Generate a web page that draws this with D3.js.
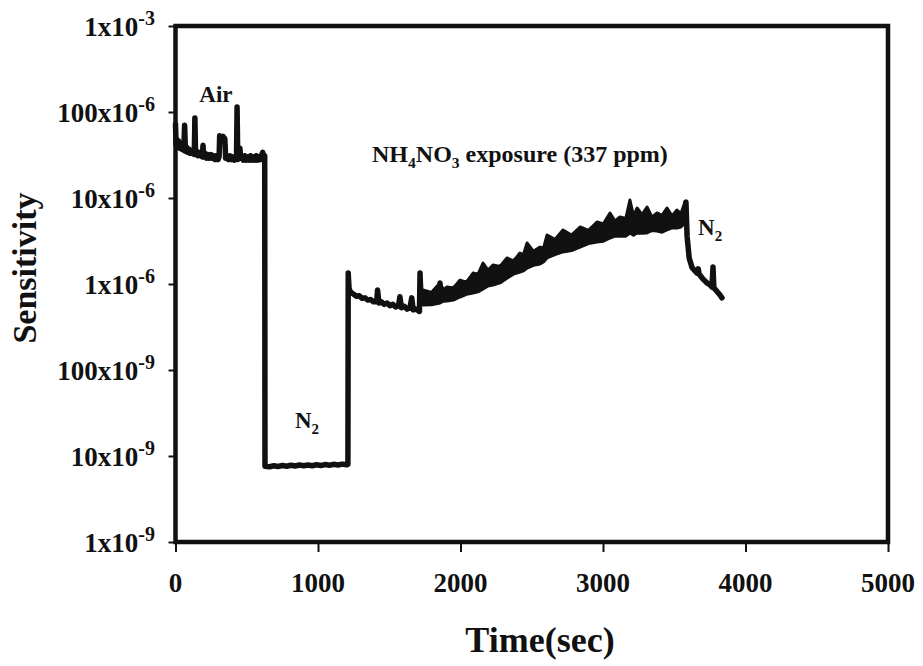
<!DOCTYPE html>
<html>
<head>
<meta charset="utf-8">
<script src="https://cdn.jsdelivr.net/npm/d3@7"></script>
<style>
  body { margin: 0; background: #fff; }
  svg text { font-family: "Liberation Serif", "Times New Roman", serif; font-weight: bold; fill: #111; }
</style>
</head>
<body>
<svg width="923" height="666"></svg>
<script>
// Sensitivity trace (time in s, sensitivity)
const traceTime = [
  // air
  0, 4, 10, 16, 22, 28, 36, 44, 52, 58, 64, 70, 78, 86, 94, 102, 110, 118, 126, 132,
  136, 141, 150, 158, 166, 174, 182, 188, 193, 198, 208, 218, 228, 238, 248, 258, 268, 278, 288, 298,
  306, 310, 322, 334, 346, 352, 362, 372, 382, 392, 402, 412, 422, 428, 432, 437, 444, 452, 458, 466,
  476, 486, 496, 506, 516, 526, 536, 546, 556, 566, 576, 586, 596, 606, 612, 620, 626,
  // N2
  628, 660, 690, 720, 750, 780, 810, 840, 870, 900, 930, 960, 990, 1020, 1050, 1080, 1110, 1140, 1170, 1200, 1210,
  // NH4NO3 exposure
  1212, 1218, 1230, 1250, 1270, 1290, 1310, 1330, 1350, 1370, 1390, 1412, 1418, 1428, 1445, 1465, 1485, 1505, 1525, 1545,
  1565, 1575, 1585, 1605, 1625, 1645, 1658, 1668, 1690, 1712, 1716, 1722, 1740, 1800, 1850, 1856, 1862, 1950, 2050, 2150,
  2250, 2350, 2450, 2550, 2650, 2750, 2850, 2950, 3050, 3150, 3250, 3350, 3450, 3540, 3575, 3582,
  // N2
  3590, 3605, 3625, 3660, 3668, 3675, 3700, 3730, 3750, 3765, 3772, 3778, 3800, 3821, 3835
];
const traceValue = [
  7.2e-5, 4.2e-5, 4.8e-5, 3.9e-5, 4.6e-5, 3.8e-5, 4.3e-5, 3.7e-5, 4.0e-5, 3.6e-5, 7.0e-5, 3.5e-5, 3.9e-5, 3.4e-5, 3.7e-5, 3.3e-5, 3.6e-5, 3.3e-5, 3.5e-5, 3.2e-5,
  8.5e-5, 3.2e-5, 3.5e-5, 3.1e-5, 3.4e-5, 3.1e-5, 3.3e-5, 3.0e-5, 4.1e-5, 3.0e-5, 3.3e-5, 2.9e-5, 3.2e-5, 2.9e-5, 3.2e-5, 2.9e-5, 3.1e-5, 2.8e-5, 3.1e-5, 2.8e-5,
  3.0e-5, 5.3e-5, 4.8e-5, 5.2e-5, 4.9e-5, 2.9e-5, 3.1e-5, 2.8e-5, 3.1e-5, 2.8e-5, 3.0e-5, 2.75e-5, 3.0e-5, 2.8e-5, 1.14e-4, 2.8e-5, 3.2e-5, 3.8e-5, 2.9e-5, 3.1e-5,
  2.75e-5, 3.1e-5, 2.75e-5, 3.0e-5, 2.75e-5, 3.1e-5, 2.75e-5, 3.0e-5, 2.75e-5, 3.1e-5, 2.75e-5, 3.0e-5, 2.8e-5, 3.2e-5, 3.4e-5, 3.0e-5, 3.1e-5,
  7.6e-9, 7.5e-9, 7.7e-9, 7.55e-9, 7.75e-9, 7.6e-9, 7.8e-9, 7.65e-9, 7.85e-9, 7.7e-9, 7.85e-9, 7.7e-9, 7.9e-9, 7.75e-9, 7.95e-9, 7.8e-9, 8.0e-9, 7.85e-9, 8.05e-9, 7.9e-9, 8.0e-9,
  1.34e-6, 8.8e-7, 8.0e-7, 7.6e-7, 7.2e-7, 7.3e-7, 6.8e-7, 6.9e-7, 6.5e-7, 6.6e-7, 6.2e-7, 6.2e-7, 8.5e-7, 6.0e-7, 6.2e-7, 5.8e-7, 6.0e-7, 5.6e-7, 5.8e-7, 5.4e-7,
  5.6e-7, 7.1e-7, 5.3e-7, 5.5e-7, 5.1e-7, 5.3e-7, 6.9e-7, 5.0e-7, 5.1e-7, 4.8e-7, 1.34e-6, 7.2e-7, 7.3e-7, 7.6e-7, 7.8e-7, 1.03e-6, 7.9e-7, 8.8e-7, 1.05e-6, 1.25e-6,
  1.5e-6, 1.75e-6, 2.1e-6, 2.4e-6, 2.8e-6, 3.2e-6, 3.6e-6, 3.9e-6, 4.6e-6, 5.0e-6, 5.2e-6, 5.3e-6, 5.5e-6, 5.6e-6, 6.0e-6, 9.0e-6,
  3.6e-6, 2.0e-6, 1.55e-6, 1.34e-6, 1.5e-6, 1.3e-6, 1.15e-6, 1.03e-6, 9.8e-7, 9.2e-7, 1.58e-6, 9.0e-7, 8.2e-7, 7.45e-7, 6.9e-7
];

// noise envelope of the trace during NH4NO3 exposure
const bandTime = [
  1737, 1797, 1856, 1880, 1905, 1950, 1996, 2042, 2088, 2123, 2158, 2193, 2228, 2277, 2326, 2372,
  2417, 2442, 2467, 2512, 2558, 2582, 2607, 2663, 2719, 2779, 2839, 2898, 2958, 3003, 3049, 3084,
  3119, 3160, 3189, 3214, 3239, 3274, 3309, 3344, 3379, 3414, 3449, 3484, 3519, 3547, 3575
];
const bandUpper = [
  8.51e-7, 8.0e-7, 1.03e-6, 8.6e-7, 9.23e-7, 9.0e-7, 1.11e-6, 1.05e-6, 1.34e-6, 1.3e-6, 1.75e-6, 1.45e-6, 1.66e-6, 1.6e-6, 2.01e-6, 1.85e-6,
  2.29e-6, 2.2e-6, 3.0e-6, 2.4e-6, 2.69e-6, 2.6e-6, 3.71e-6, 3.3e-6, 4.25e-6, 3.7e-6, 4.6e-6, 4.2e-6, 5.26e-6, 5.0e-6, 6.7e-6, 5.4e-6,
  6.01e-6, 5.8e-6, 9.48e-6, 6.2e-6, 7.65e-6, 6.4e-6, 7.85e-6, 6.0e-6, 6.7e-6, 6.3e-6, 7.65e-6, 6.2e-6, 7.25e-6, 6.6e-6, 8.98e-6
];
const bandLower = [
  5.7e-7, 5.75e-7, 6.01e-7, 6.3e-7, 6.34e-7, 6.5e-7, 7.06e-7, 7.6e-7, 7.85e-7, 8.1e-7, 8.75e-7, 9.5e-7, 9.73e-7, 1.03e-6, 1.17e-6, 1.3e-6,
  1.38e-6, 1.42e-6, 1.53e-6, 1.65e-6, 1.71e-6, 1.8e-6, 2.01e-6, 2.2e-6, 2.36e-6, 2.45e-6, 2.69e-6, 2.95e-6, 3.08e-6, 3.15e-6, 3.43e-6, 3.6e-6,
  3.61e-6, 3.6e-6, 3.92e-6, 3.7e-6, 3.92e-6, 3.9e-6, 3.92e-6, 4.2e-6, 4.13e-6, 4.0e-6, 4.25e-6, 4.5e-6, 4.48e-6, 4.6e-6, 5.12e-6
];

const xTicks = [0, 1000, 2000, 3000, 4000, 5000];
const yTicks = [1e-9, 1e-8, 1e-7, 1e-6, 1e-5, 1e-4, 1e-3];
const yTickMantissa = ["1x10", "10x10", "100x10", "1x10", "10x10", "100x10", "1x10"];
const yTickExponent = ["-9", "-9", "-9", "-6", "-6", "-6", "-3"];

const svg = d3.select("svg");

const plotLeft = 175.5, plotRight = 888, plotTop = 26, plotBottom = 542;

const x = d3.scaleLinear().domain([0, 5000]).range([plotLeft, plotRight]);
const y = d3.scaleLog().domain([1e-9, 1e-3]).range([plotBottom, plotTop]);

// noise band
const band = bandTime.map((t, i) => ({ t, hi: bandUpper[i], lo: bandLower[i] }));
svg.append("path")
    .datum(band)
    .attr("fill", "#111")
    .attr("stroke", "#111")
    .attr("stroke-width", 3)
    .attr("stroke-linejoin", "round")
    .attr("d", d3.area()
        .x(d => x(d.t))
        .y0(d => y(d.lo))
        .y1(d => y(d.hi)));

// trace
const trace = traceTime.map((t, i) => ({ t, v: traceValue[i] }));
svg.append("path")
    .datum(trace)
    .attr("fill", "none")
    .attr("stroke", "#111")
    .attr("stroke-width", 5.5)
    .attr("stroke-linejoin", "round")
    .attr("stroke-linecap", "round")
    .attr("d", d3.line().x(d => x(d.t)).y(d => y(d.v)));

// axes (ticks only, frame drawn separately)
const yAxis = svg.append("g")
    .attr("transform", `translate(${plotLeft},0)`)
    .call(d3.axisLeft(y).tickValues(yTicks).tickSize(7).tickFormat(""));
yAxis.select(".domain").remove();
yAxis.selectAll("line").attr("stroke", "#111").attr("stroke-width", 2);

const xAxis = svg.append("g")
    .attr("transform", `translate(0,${plotBottom})`)
    .call(d3.axisBottom(x).tickValues(xTicks).tickSize(10).tickFormat(""));
xAxis.select(".domain").remove();
xAxis.selectAll("line").attr("stroke", "#111").attr("stroke-width", 2);

// frame
svg.append("rect")
    .attr("x", plotLeft).attr("y", plotTop)
    .attr("width", plotRight - plotLeft).attr("height", plotBottom - plotTop)
    .attr("fill", "none")
    .attr("stroke", "#111")
    .attr("stroke-width", 4.5);

// y tick labels with superscript exponents
yTicks.forEach((v, i) => {
    const t = svg.append("text")
        .attr("x", 155)
        .attr("y", y(v) + 10)
        .attr("text-anchor", "end")
        .attr("font-size", 27);
    t.append("tspan").text(yTickMantissa[i]);
    t.append("tspan")
        .attr("font-size", 20)
        .attr("dy", -11)
        .text(yTickExponent[i]);
});

// x tick labels
xTicks.forEach(v => {
    svg.append("text")
        .attr("x", x(v))
        .attr("y", 592)
        .attr("text-anchor", "middle")
        .attr("font-size", 27)
        .text(v);
});

// axis titles
svg.append("text")
    .attr("x", 540)
    .attr("y", 652)
    .attr("text-anchor", "middle")
    .attr("font-size", 36)
    .text("Time(sec)");

svg.append("text")
    .attr("transform", "translate(36,268) rotate(-90)")
    .attr("text-anchor", "middle")
    .attr("font-size", 34)
    .text("Sensitivity");

// annotations
function subLabel(px, py, size, parts) {
    const t = svg.append("text").attr("x", px).attr("y", py).attr("font-size", size);
    parts.forEach(p => {
        if (p.sub) {
            t.append("tspan").attr("font-size", size * 0.65).attr("dy", 6).text(p.s);
        } else {
            t.append("tspan").attr("dy", p.back ? -6 : 0).text(p.s);
        }
    });
}

svg.append("text")
    .attr("x", x(284)).attr("y", y(1.3e-4))
    .attr("text-anchor", "middle")
    .attr("font-size", 23)
    .text("Air");

subLabel(x(838), y(2.1e-8), 23, [{ s: "N" }, { s: "2", sub: true }]);
subLabel(x(3667), y(3.7e-6), 23, [{ s: "N" }, { s: "2", sub: true }]);
subLabel(x(1379), y(2.6e-5), 24, [
    { s: "NH" }, { s: "4", sub: true }, { s: "NO", back: true }, { s: "3", sub: true },
    { s: " exposure (337 ppm)", back: true }
]);
</script>
</body>
</html>
